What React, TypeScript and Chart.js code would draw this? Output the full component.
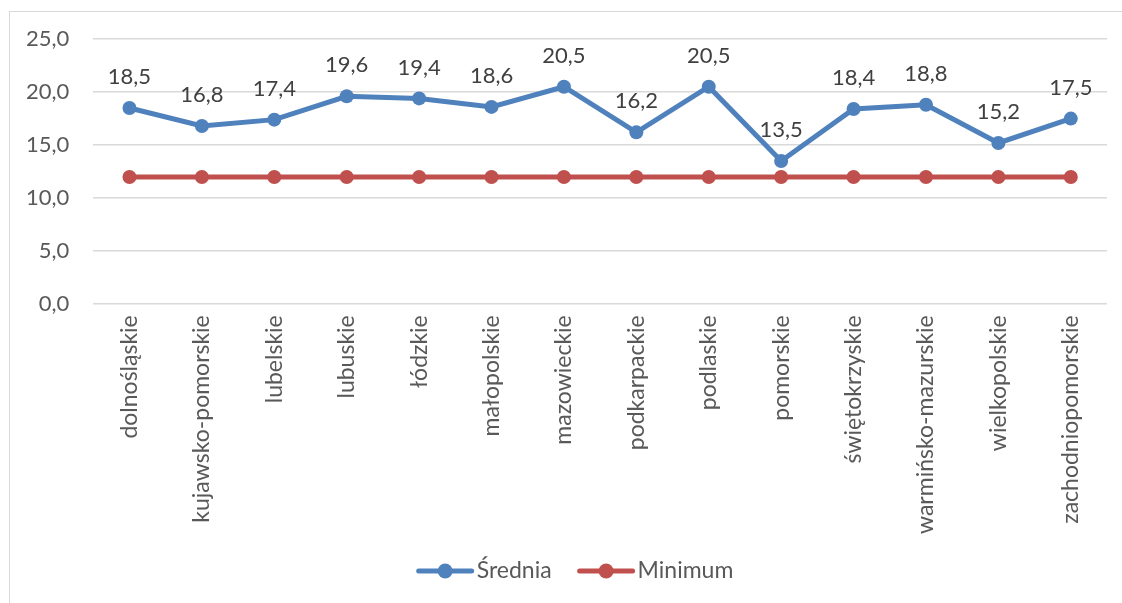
import React, { useEffect, useRef } from "react";
import { Chart, registerables } from "chart.js";

Chart.register(...registerables);

const categories = [
  "dolnośląskie",
  "kujawsko-pomorskie",
  "lubelskie",
  "lubuskie",
  "łódzkie",
  "małopolskie",
  "mazowieckie",
  "podkarpackie",
  "podlaskie",
  "pomorskie",
  "świętokrzyskie",
  "warmińsko-mazurskie",
  "wielkopolskie",
  "zachodniopomorskie",
];
const srednia = [18.5, 16.8, 17.4, 19.6, 19.4, 18.6, 20.5, 16.2, 20.5, 13.5, 18.4, 18.8, 15.2, 17.5];
const minimum = [12, 12, 12, 12, 12, 12, 12, 12, 12, 12, 12, 12, 12, 12];
const seriesNames = ["Średnia", "Minimum"];
const yTicks = { min: 0, max: 25, step: 5 };

const BLUE = "#4F81BD";
const RED = "#C0504D";
const TEXT = "#595959";
const GRID = "#D9D9D9";
const FONT = "Lato, 'Open Sans', sans-serif";
const FS = 22;
const FS_CAT = 23;

const fmt = (v: number) => v.toFixed(1).replace(".", ",");

const dataLabels = {
  id: "dataLabels",
  afterDatasetsDraw(chart: any) {
    const meta = chart.getDatasetMeta(0);
    const ctx = chart.ctx;
    ctx.save();
    ctx.font = `${FS}px ${FONT}`;
    ctx.fillStyle = "#404040";
    ctx.textAlign = "center";
    ctx.textBaseline = "middle";
    meta.data.forEach((pt: any, i: number) => {
      ctx.fillText(fmt(srednia[i]), pt.x, pt.y - 31);
    });
    ctx.restore();
  },
};

const customLegend = {
  id: "customLegend",
  afterDraw(chart: any) {
    const ctx = chart.ctx;
    const colors = [BLUE, RED];
    ctx.save();
    ctx.font = `${FS_CAT}px ${FONT}`;
    const iconW = 57;
    const gapText = 3;
    const gapItem = 26;
    const widths = seriesNames.map((n) => ctx.measureText(n).width);
    const total = widths.reduce((a, w) => a + iconW + gapText + w, 0) + gapItem * (seriesNames.length - 1);
    let x = 575 - total / 2;
    const y = chart.height - 32;
    seriesNames.forEach((name, i) => {
      ctx.strokeStyle = colors[i];
      ctx.fillStyle = colors[i];
      ctx.lineWidth = 5;
      ctx.lineCap = "round";
      ctx.beginPath();
      ctx.moveTo(x + 2, y);
      ctx.lineTo(x + iconW - 2, y);
      ctx.stroke();
      ctx.beginPath();
      ctx.arc(x + iconW / 2, y, 7.5, 0, Math.PI * 2);
      ctx.fill();
      ctx.fillStyle = TEXT;
      ctx.textAlign = "left";
      ctx.textBaseline = "middle";
      ctx.fillText(name, x + iconW + gapText, y);
      x += iconW + gapText + widths[i] + gapItem;
    });
    ctx.restore();
  },
};

export default function App() {
  const ref = useRef<HTMLCanvasElement>(null);
  useEffect(() => {
    document.body.style.margin = "0";
    const chart = new Chart(ref.current!, {
      type: "line",
      data: {
        labels: categories,
        datasets: [
          {
            label: seriesNames[0],
            data: srednia,
            borderColor: BLUE,
            backgroundColor: BLUE,
            borderWidth: 5,
            pointRadius: 7,
            pointBackgroundColor: BLUE,
            pointBorderWidth: 0,
            tension: 0,
          },
          {
            label: seriesNames[1],
            data: minimum,
            borderColor: RED,
            backgroundColor: RED,
            borderWidth: 5,
            pointRadius: 7,
            pointBackgroundColor: RED,
            pointBorderWidth: 0,
            tension: 0,
          },
        ],
      },
      options: {
        animation: false,
        responsive: false,
        layout: { padding: { left: 2, right: 15, top: 39, bottom: 58 } },
        font: { family: FONT },
        scales: {
          x: {
            offset: true,
            grid: { display: false, drawTicks: false },
            border: { display: false },
            ticks: {
              autoSkip: false,
              minRotation: 90,
              maxRotation: 90,
              padding: 11,
              color: TEXT,
              font: { family: FONT, size: FS_CAT },
            },
          },
          y: {
            min: yTicks.min,
            max: yTicks.max,
            grid: { color: GRID, lineWidth: 1.5, drawTicks: false },
            border: { display: false },
            ticks: {
              stepSize: yTicks.step,
              padding: 24,
              color: TEXT,
              font: { family: FONT, size: FS },
              callback: (v: any) => fmt(Number(v)),
            },
          },
        },
        plugins: {
          tooltip: { enabled: false },
          legend: { display: false },
        },
      },
      plugins: [dataLabels, customLegend],
    });
    return () => chart.destroy();
  }, []);
  return (
    <div style={{ position: "relative", width: 1122, height: 603, overflow: "hidden", background: "#fff" }}>
      <div
        style={{
          position: "absolute",
          left: 9,
          top: 11,
          width: 1130,
          height: 610,
          border: "1px solid #D9D9D9",
          boxSizing: "border-box",
        }}
      />
      <canvas ref={ref} width={1122} height={603} style={{ position: "absolute", left: 0, top: 0 }} />
    </div>
  );
}
